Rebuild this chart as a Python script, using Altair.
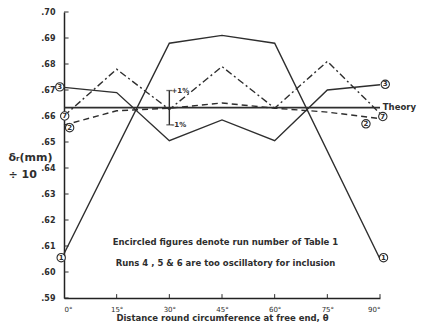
import altair as alt
import pandas as pd

# ---- data ----
angles = [0, 15, 30, 45, 60, 75, 90]
run1_angles = [0, 30, 45, 60, 90]
run1_vals = [0.607, 0.688, 0.691, 0.688, 0.605]
run3_vals = [0.671, 0.669, 0.6505, 0.6585, 0.6505, 0.670, 0.672]
run7_vals = [0.660, 0.678, 0.6625, 0.679, 0.663, 0.681, 0.661]
run2_vals = [0.6565, 0.662, 0.663, 0.665, 0.663, 0.6615, 0.659]
theory_val = 0.6632
err_angle = 30
err_low, err_high = 0.6566, 0.6698

y_ticks = [0.59, 0.60, 0.61, 0.62, 0.63, 0.64, 0.65, 0.66, 0.67, 0.68, 0.69, 0.70]
x_ticks = angles

label_runs = ["1", "1", "3", "3", "7", "7", "2", "2"]
label_x = [-0.8, 91.0, -1.2, 91.5, 0.2, 90.8, 1.6, 86.0]
label_y = [0.6055, 0.6055, 0.6712, 0.6722, 0.6600, 0.6598, 0.6555, 0.6570]

note_lines = ["Encircled figures denote run number of Table 1",
              "Runs 4 , 5 & 6  are too oscillatory  for inclusion"]
note_x = [46, 46]
note_y = [0.6117, 0.6036]

FONT = "DejaVu Sans"
INK = "#2e2e2e"

xs = alt.Scale(domain=[0, 90], nice=False)
ys = alt.Scale(domain=[0.59, 0.70], nice=False, zero=False)

X = alt.X("angle:Q", scale=xs, axis=alt.Axis(
    values=x_ticks, labelExpr="datum.value + '°'", ticks=False, grid=False,
    labelPadding=7, labelFontSize=7, labelFont=FONT, labelColor=INK,
    title="Distance round circumference at free end, θ", titleFont=FONT,
    titleFontSize=8.5, titleFontWeight="bold", titleColor=INK, titlePadding=1,
    domainColor="#222", domainWidth=1.5))
Y = alt.Y("value:Q", scale=ys, axis=alt.Axis(
    values=y_ticks, labelExpr="replace(format(datum.value, '.2f'), '0.', '.')",
    ticks=False, grid=False, labelPadding=9, labelFontSize=8, labelFontWeight="bold",
    labelFont=FONT, labelColor=INK, title=["δᵣ(mm)", "÷ 10"], titleAngle=0,
    titleAlign="left", titleX=-56, titleY=150, titleFont=FONT, titleFontSize=11,
    titleFontWeight="bold", titleColor=INK, titleLineHeight=17,
    domainColor="#222", domainWidth=1.5))

def line_layer(xv, yv, dash=None, width=1.4):
    df = pd.DataFrame({"angle": xv, "value": yv})
    kw = dict(color=INK, strokeWidth=width)
    if dash:
        kw["strokeDash"] = dash
    return alt.Chart(df).mark_line(**kw).encode(x=X, y=Y)

theory = line_layer([0, 90], [theory_val, theory_val], width=1.7)
run1 = line_layer(run1_angles, run1_vals)
run3 = line_layer(angles, run3_vals)
run7 = line_layer(angles, run7_vals, dash=[7, 3, 2, 3])
run2 = line_layer(angles, run2_vals, dash=[6, 4])

# inward ticks
ytick_df = pd.DataFrame({"angle": [0] * len(y_ticks), "a2": [1.3] * len(y_ticks), "value": y_ticks})
yticks = alt.Chart(ytick_df).mark_rule(color=INK, strokeWidth=1).encode(
    x=X, x2="a2:Q", y=Y)
xtick_df = pd.DataFrame({"angle": x_ticks[1:], "value": [0.59] * 6, "v2": [0.5915] * 6})
xticks = alt.Chart(xtick_df).mark_rule(color=INK, strokeWidth=1).encode(
    x=X, y=Y, y2="v2:Q")

# +/- 1% bar
err_df = pd.DataFrame({"angle": [err_angle], "value": [err_low], "v2": [err_high]})
err_rule = alt.Chart(err_df).mark_rule(color=INK, strokeWidth=1.4).encode(x=X, y=Y, y2="v2:Q")
cap_df = pd.DataFrame({"angle": [err_angle, err_angle], "value": [err_low, err_high]})
caps = alt.Chart(cap_df).mark_tick(color=INK, orient="horizontal", size=6, thickness=1.3).encode(x=X, y=Y)
pct_df = pd.DataFrame({"angle": [30.6, 30.6], "value": [err_high, err_low], "t": ["+1%", "-1%"]})
pct = alt.Chart(pct_df).mark_text(align="left", baseline="middle", font=FONT, fontSize=7,
                                  fontWeight="bold", color=INK).encode(x=X, y=Y, text="t:N")

theory_lbl = alt.Chart(pd.DataFrame({"angle": [90.8], "value": [theory_val + 0.0003], "t": ["Theory"]})).mark_text(
    align="left", baseline="middle", font=FONT, fontSize=8.5, fontWeight="bold", color=INK).encode(
    x=X, y=Y, text="t:N")

lab_df = pd.DataFrame({"angle": label_x, "value": label_y, "run": label_runs})
circles = alt.Chart(lab_df).mark_point(shape="circle", filled=True, fill="white", stroke=INK,
                                       strokeWidth=1.1, size=70, opacity=1).encode(x=X, y=Y)
digits = alt.Chart(lab_df).mark_text(font=FONT, fontSize=7, fontWeight="bold", color=INK,
                                     baseline="middle").encode(x=X, y=Y, text="run:N")

note_df = pd.DataFrame({"angle": note_x, "value": note_y, "t": note_lines})
notes = alt.Chart(note_df).mark_text(font=FONT, fontSize=8.5, fontWeight="bold", color=INK,
                                     baseline="middle").encode(x=X, y=Y, text="t:N")

chart = alt.layer(theory, run1, run3, run7, run2, yticks, xticks, err_rule, caps, pct,
                  theory_lbl, circles, digits, notes).properties(
    width=316, height=286, autosize="none",
    padding={"left": 56, "top": 4, "right": 38, "bottom": 24},
    background="white",
).configure_view(stroke=None)

chart.save("out.html", embed_options={"renderer": "svg", "actions": False})
